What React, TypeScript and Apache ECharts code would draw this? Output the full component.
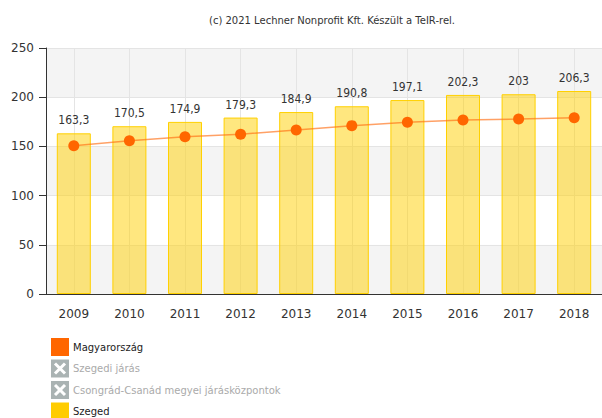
import React, { useEffect, useRef } from "react";
import * as echarts from "echarts";

const years = ["2009", "2010", "2011", "2012", "2013", "2014", "2015", "2016", "2017", "2018"];
const szeged = [163.3, 170.5, 174.9, 179.3, 184.9, 190.8, 197.1, 202.3, 203, 206.3];
const magyarorszag = [150.7, 155.8, 159.9, 162.3, 166.7, 171.1, 174.5, 176.8, 177.8, 179.2];
const legendNames = ["Magyarország", "Szegedi járás", "Csongrád-Csanád megyei járásközpontok", "Szeged"];
const legendActive = [true, false, false, true];
const legendColors = ["#ff6600", "#aab3b3", "#aab3b3", "#ffcc00"];
const titleText = "(c) 2021 Lechner Nonprofit Kft. Készült a TeIR-rel.";

const fmt = (v: number) => String(v).replace(".", ",");
const FONT = "'DejaVu Sans', Verdana, sans-serif";
const FONT_C = "'DejaVu Sans Condensed', 'DejaVu Sans', Tahoma, sans-serif";

export default function App() {
  const ref = useRef<HTMLDivElement>(null);
  useEffect(() => {
    if (!ref.current) return;
    const chart = echarts.init(ref.current, null, { renderer: "svg" });
    const legendGraphics: any[] = [];
    legendNames.forEach((name, i) => {
      const y = 338 + i * 21.5;
      const children: any[] = [
        { type: "rect", shape: { x: 0, y: 0, width: 18, height: 18 }, style: { fill: legendColors[i] } },
      ];
      if (!legendActive[i]) {
        children.push(
          { type: "line", shape: { x1: 4, y1: 4, x2: 14, y2: 14 }, style: { stroke: "#fff", lineWidth: 3 } },
          { type: "line", shape: { x1: 14, y1: 4, x2: 4, y2: 14 }, style: { stroke: "#fff", lineWidth: 3 } }
        );
      }
      children.push({
        type: "text",
        x: 22,
        y: 9,
        style: {
          text: name,
          fill: legendActive[i] ? "#222" : "#aaa",
          font: "10px " + FONT,
          verticalAlign: "middle",
        },
      });
      legendGraphics.push({ type: "group", x: 51, y, children });
    });
    chart.setOption({
      animation: false,
      title: {
        text: titleText,
        left: 327,
        textAlign: "center",
        top: 10,
        textStyle: { fontSize: 10, fontWeight: "normal", color: "#333", fontFamily: FONT },
      },
      grid: { left: 46, top: 48, width: 561, bottom: 124, containLabel: false },
      xAxis: {
        type: "category",
        data: years,
        axisLine: { lineStyle: { color: "#333" } },
        axisTick: { alignWithLabel: true, length: 5, lineStyle: { color: "#333" } },
        axisLabel: { color: "#333", fontSize: 12, margin: 14, fontFamily: FONT },
        splitLine: { show: true, alignWithLabel: true, lineStyle: { color: "#e4e4e4" } },
      },
      yAxis: {
        type: "value",
        min: 0,
        max: 250,
        interval: 50,
        axisLine: { show: true, lineStyle: { color: "#333" } },
        axisTick: { show: true, length: 7, lineStyle: { color: "#333" } },
        axisLabel: { color: "#333", fontSize: 12, margin: 12, fontFamily: FONT },
        splitLine: { show: true, lineStyle: { color: "#e4e4e4" } },
        splitArea: { show: true, areaStyle: { color: ["#f4f4f4", "#ffffff"] } },
      },
      series: [
        {
          name: "Szeged",
          type: "bar",
          data: szeged,
          barWidth: 34,
          itemStyle: { color: "rgba(255,208,0,0.5)", borderColor: "#ffd000", borderWidth: 1 },
          label: {
            show: true,
            position: "top",
            distance: 7,
            color: "#333",
            fontSize: 12,
            fontFamily: FONT_C,
            formatter: (p: any) => fmt(p.value),
          },
        },
        {
          name: "Magyarország",
          type: "line",
          data: magyarorszag,
          symbol: "circle",
          symbolSize: 11,
          itemStyle: { color: "#ff6600" },
          lineStyle: { color: "rgba(255,110,20,0.65)", width: 1.5 },
          z: 5,
        },
      ],
      graphic: legendGraphics,
    });
    return () => chart.dispose();
  }, []);
  return <div ref={ref} style={{ width: 602, height: 418, position: "absolute", left: 0, top: 0 }} />;
}
